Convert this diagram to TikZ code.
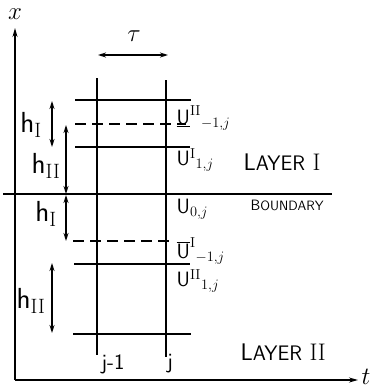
\documentclass[tikz,border=0pt]{standalone}
\usetikzlibrary{arrows.meta}
\begin{document}
\begin{tikzpicture}[x=1pt,y=-1pt, line width=1.3pt,
  tip/.style={-{Stealth[length=9pt,width=5pt]}},
  dbl/.style={{Stealth[length=8pt,width=5pt]}-{Stealth[length=8pt,width=5pt]}},
  gridline/.style={line width=1.2pt},
  dash line/.style={line width=1.2pt, dash pattern=on 11pt off 6pt},
  lab/.style={font=\sffamily\fontsize{20}{20}\selectfont, anchor=west, inner sep=0pt},
  hlab/.style={font=\sffamily\fontsize{29}{29}\selectfont, inner sep=0pt},
  jlab/.style={font=\sffamily\fontsize{22}{22}\selectfont, inner sep=0pt},
  big/.style={font=\sffamily\fontsize{24}{24}\selectfont, inner sep=0pt, anchor=west}]
\useasboundingbox (0,0) rectangle (385,388);
% axes
\coordinate (O) at (15,380);
\coordinate (Xtop) at (15,28);
\coordinate (Tend) at (358,380);
\draw[tip] (O) -- (Xtop);
\draw[tip] (O) -- (Tend);
\node[font=\fontsize{30}{30}\selectfont, inner sep=0pt] (xl) at (15,14) {$x$};
\node[font=\fontsize{28}{28}\selectfont, inner sep=0pt] (tl) at (366,377) {$t$};
% vertical grid lines
\coordinate (a1) at (97,78); \coordinate (a2) at (97,355);
\coordinate (b1) at (166,80); \coordinate (b2) at (166,357);
\draw[gridline] (a1) -- (a2);
\draw[gridline] (b1) -- (b2);
% tau
\coordinate (t1) at (98,55); \coordinate (t2) at (168,55);
\draw[dbl] (t1) -- (t2);
\node[font=\fontsize{28}{28}\selectfont, inner sep=0pt] (tau) at (134,36) {$\tau$};
% horizontal lines
\coordinate (l1a) at (75,100); \coordinate (l1b) at (191,100);
\coordinate (l2a) at (75,124); \coordinate (l2b) at (186,124);
\coordinate (l3a) at (75,147); \coordinate (l3b) at (190,147);
\coordinate (l4a) at (3,194);  \coordinate (l4b) at (332,194);
\coordinate (l5a) at (73,241); \coordinate (l5b) at (172,241);
\coordinate (l6a) at (74,264); \coordinate (l6b) at (190,264);
\coordinate (l7a) at (73,334); \coordinate (l7b) at (191,334);
\draw[gridline] (l1a) -- (l1b);
\draw[dash line] (l2a) -- (l2b);
\draw[gridline] (l3a) -- (l3b);
\draw[gridline] (l4a) -- (l4b);
\draw[dash line] (l5a) -- (l5b);
\draw[gridline] (l6a) -- (l6b);
\draw[gridline] (l7a) -- (l7b);
% h arrows
\coordinate (h1a) at (52,101); \coordinate (h1b) at (52,147);
\coordinate (h2a) at (66,125); \coordinate (h2b) at (66,194);
\coordinate (h3a) at (66,195); \coordinate (h3b) at (66,241);
\coordinate (h4a) at (52,263); \coordinate (h4b) at (52,333);
\draw[dbl] (h1a) -- (h1b);
\draw[dbl] (h2a) -- (h2b);
\draw[dbl] (h3a) -- (h3b);
\draw[dbl] (h4a) -- (h4b);
\node[hlab] (hA) at (31,125) {h$_{\mathrm{I}}$};
\node[hlab] (hB) at (46,166) {h$_{\mathrm{II}}$};
\node[hlab] (hC) at (46,214) {h$_{\mathrm{I}}$};
\node[hlab] (hD) at (31,301) {h$_{\mathrm{II}}$};
% right labels
\node[lab] (u1) at (176,118) {$\underline{\mathsf{U}}^{\mathrm{II}}{}_{-1,j}$};
\node[lab] (u2) at (176,160) {$\mathsf{U}^{\mathrm{I}}{}_{1,j}$};
\node[big] (layer1) at (243,162) {L{\fontsize{21}{21}\selectfont AYER} \textrm{I}};
\node[lab] (u3) at (176,209) {$\mathsf{U}_{0,j}$};
\node[anchor=west, inner sep=0pt, font=\sffamily] (bd) at (250,205) {{\fontsize{15}{15}\selectfont B}{\fontsize{13.5}{13.5}\selectfont OUNDARY}};
\node[lab] (u4) at (176,251) {$\overline{\mathsf{U}}^{\mathrm{I}}{}_{-1,j}$};
\node[lab] (u5) at (176,281) {$\mathsf{U}^{\mathrm{II}}{}_{1,j}$};
\node[big] (layer2) at (240,352) {L{\fontsize{21}{21}\selectfont AYER} \textrm{II}};
\node[jlab] (jm) at (113,364) {j-1};
\node[jlab] (jj) at (170,364) {j};
\end{tikzpicture}
\end{document}
